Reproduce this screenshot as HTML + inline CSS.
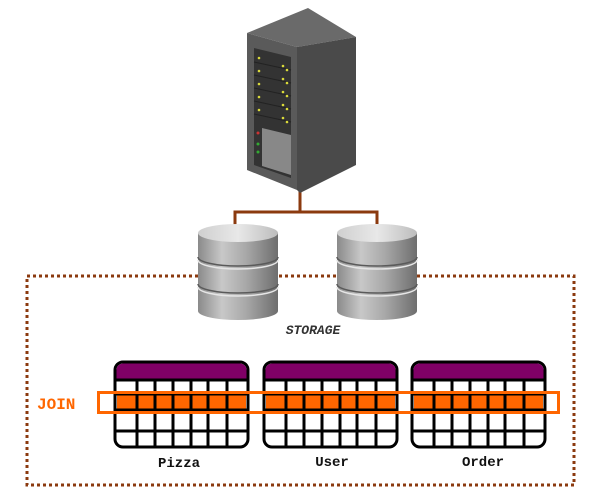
<!DOCTYPE html>
<html><head><meta charset="utf-8"><style>
html,body{margin:0;padding:0;background:#fff;width:600px;height:495px;overflow:hidden}
</style></head><body>
<svg width="600" height="495" viewBox="0 0 600 495" xmlns="http://www.w3.org/2000/svg">
<defs>
<linearGradient id="dbg" x1="0" x2="1">
<stop offset="0" stop-color="#8a8a8a"/><stop offset="0.3" stop-color="#c8c8c8"/><stop offset="0.6" stop-color="#a8a8a8"/><stop offset="1" stop-color="#6e6e6e"/>
</linearGradient>
<linearGradient id="dbt" x1="0" x2="1">
<stop offset="0" stop-color="#cfcfcf"/><stop offset="0.5" stop-color="#e8e8e8"/><stop offset="1" stop-color="#bdbdbd"/>
</linearGradient>
<g id="db">
<path d="M0,10 L0,88 A40,9 0 0 0 80,88 L80,10 Z" fill="url(#dbg)"/>
<ellipse cx="40" cy="10" rx="40" ry="9" fill="url(#dbt)"/>
<path d="M0,34 A40,9 0 0 0 80,34" fill="none" stroke="#5a5a5a" stroke-width="1.5"/>
<path d="M0,37 A40,9 0 0 0 80,37" fill="none" stroke="#e6e6e6" stroke-width="1.5"/>
<path d="M0,61 A40,9 0 0 0 80,61" fill="none" stroke="#5a5a5a" stroke-width="1.5"/>
<path d="M0,64 A40,9 0 0 0 80,64" fill="none" stroke="#e6e6e6" stroke-width="1.5"/>
</g>
<g id="tbl">
<rect x="0" y="0" width="133" height="85" rx="8" fill="#fff" stroke="#000" stroke-width="3"/>
<path d="M1.5,18 L1.5,8 A6.5,6.5 0 0 1 8,1.5 L125,1.5 A6.5,6.5 0 0 1 131.5,8 L131.5,18 Z" fill="#800066"/>
<rect x="2" y="32" width="129" height="16" fill="#ff6600"/>
<g stroke="#000" stroke-width="3">
<line x1="0" y1="18" x2="133" y2="18"/>
<line x1="0" y1="32" x2="133" y2="32"/>
<line x1="0" y1="48" x2="133" y2="48"/>
<line x1="0" y1="69" x2="133" y2="69"/>
<line x1="22" y1="18" x2="22" y2="85"/>
<line x1="40" y1="18" x2="40" y2="85"/>
<line x1="58" y1="18" x2="58" y2="85"/>
<line x1="76" y1="18" x2="76" y2="85"/>
<line x1="93" y1="18" x2="93" y2="85"/>
<line x1="112" y1="18" x2="112" y2="85"/>
</g>
</g>
</defs>
<rect x="27" y="276" width="547" height="209" fill="none" stroke="#8b3a0f" stroke-width="3" stroke-dasharray="3,3"/>
<path d="M300,190 L300,212 M235,230 L235,212 L377,212 L377,230" fill="none" stroke="#8b3a0f" stroke-width="3"/>
<!-- server -->
<polygon points="247,33 308,8 356,37 297,47" fill="#6a6a6a"/>
<polygon points="247,33 297,47 297,190 247,170" fill="#5a5a5a"/>
<polygon points="297,47 356,37 356,165 300,193 297,190" fill="#4a4a4a"/>
<polygon points="254,48 291,57 291,178 254,165" fill="#333"/>
<g stroke="#222" stroke-width="1">
<line x1="254" y1="62" x2="291" y2="70"/><line x1="254" y1="75" x2="291" y2="83"/>
<line x1="254" y1="88" x2="291" y2="96"/><line x1="254" y1="101" x2="291" y2="109"/>
<line x1="254" y1="114" x2="291" y2="122"/>
</g>
<g fill="#dada3a">
<circle cx="259" cy="58" r="1.3"/><circle cx="283" cy="66" r="1.3"/><circle cx="287" cy="70" r="1.3"/>
<circle cx="259" cy="71" r="1.3"/><circle cx="283" cy="79" r="1.3"/><circle cx="287" cy="83" r="1.3"/>
<circle cx="259" cy="84" r="1.3"/><circle cx="283" cy="92" r="1.3"/><circle cx="287" cy="96" r="1.3"/>
<circle cx="259" cy="97" r="1.3"/><circle cx="283" cy="105" r="1.3"/><circle cx="287" cy="109" r="1.3"/>
<circle cx="259" cy="110" r="1.3"/><circle cx="283" cy="118" r="1.3"/><circle cx="287" cy="122" r="1.3"/>
</g>
<polygon points="262,128 291,135 291,175 262,166" fill="#888"/>
<circle cx="258" cy="133" r="1.5" fill="#c33"/><circle cx="258" cy="144" r="1.5" fill="#3a3"/><circle cx="258" cy="152" r="1.5" fill="#3a3"/>
<use href="#db" x="198" y="223"/>
<use href="#db" x="337" y="223"/>
<text x="313" y="334" text-anchor="middle" font-family="Liberation Mono, monospace" font-style="italic" font-weight="bold" font-size="13" fill="#333">STORAGE</text>
<use href="#tbl" x="115" y="362"/>
<use href="#tbl" x="264" y="362"/>
<use href="#tbl" x="412" y="362"/>
<rect x="98.5" y="392.5" width="460" height="20" fill="none" stroke="#ff6600" stroke-width="3"/>
<text x="37" y="409" font-family="Liberation Mono, monospace" font-weight="bold" font-size="16" fill="#ff6600">JOIN</text>
<g font-family="Liberation Mono, monospace" font-weight="bold" font-size="14" fill="#111" text-anchor="middle">
<text x="179" y="467">Pizza</text><text x="332" y="466">User</text><text x="483" y="466">Order</text>
</g>
</svg>
</body></html>
